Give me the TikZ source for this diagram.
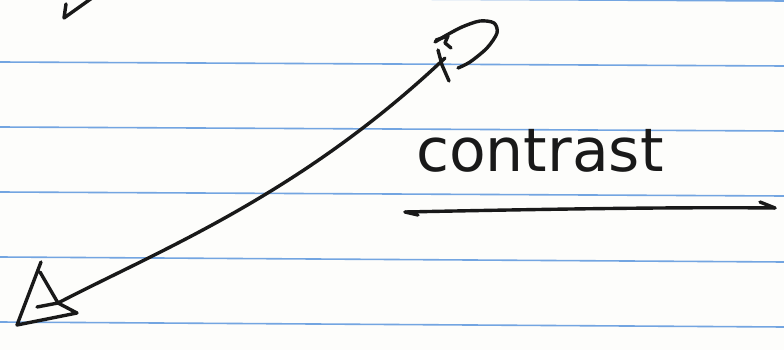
\documentclass[tikz,border=0pt]{standalone}
\usepackage{fontspec}
\newfontfamily\handfont{DejaVu Sans}
\definecolor{ruled}{RGB}{115,165,225}
\definecolor{ink}{RGB}{25,25,25}
\definecolor{paper}{RGB}{253,253,251}
\begin{document}
\begin{tikzpicture}[x=1pt,y=-1pt,
  rule/.style={draw=ruled,line width=1.6pt},
  pen/.style={draw=ink,line width=3.4pt,line cap=round,line join=round},
  hand/.style={font=\handfont\fontsize{60}{60}\selectfont,text=ink,inner sep=0pt}]
\useasboundingbox (0,0) rectangle (784,350);
\fill[paper] (0,0) rectangle (784,350);
% ruled lines
\draw[rule] (0,-3) -- (784,1);
\draw[rule] (0,62) -- (784,66);
\draw[rule] (0,127) -- (784,131);
\draw[rule] (0,192) -- (784,196);
\draw[rule] (0,257) -- (784,262);
\draw[rule] (0,322) -- (784,327);
% partial stroke top-left
\draw[pen] (66,4) -- (64,18) -- (92,-2);
% named points
\coordinate (tri) at (58,303);
\coordinate (pend) at (445,58);
% main curve
\draw[pen] (tri) .. controls (160,250) and (300,195) .. (pend);
% triangle at lower left
\draw[pen] (41,262) -- (17,325) -- (77,313) -- (tri) -- (40,272);
\draw[pen] (37,307) -- (tri);
% P with loop at upper right
\draw[pen] (438,50) -- (442,65) -- (449,81);
\draw[pen] (436,40) -- (448,36) -- (445,43) -- (451,48);
\draw[pen] plot[smooth] coordinates {(435,42) (445,36) (462,27) (480,21) (494,23) (497,33) (487,48) (470,62) (458,68)};
% text
\node[hand,anchor=base west] (label) at (416,171) {contrast};
% underline arrow
\coordinate (ua) at (405,212);
\coordinate (ub) at (775,208);
\draw[pen] (ua) .. controls (550,209) and (680,207) .. (ub);
\draw[pen] (ub) -- (760,202);
\draw[pen] (ua) -- (418,215);
\end{tikzpicture}
\end{document}
